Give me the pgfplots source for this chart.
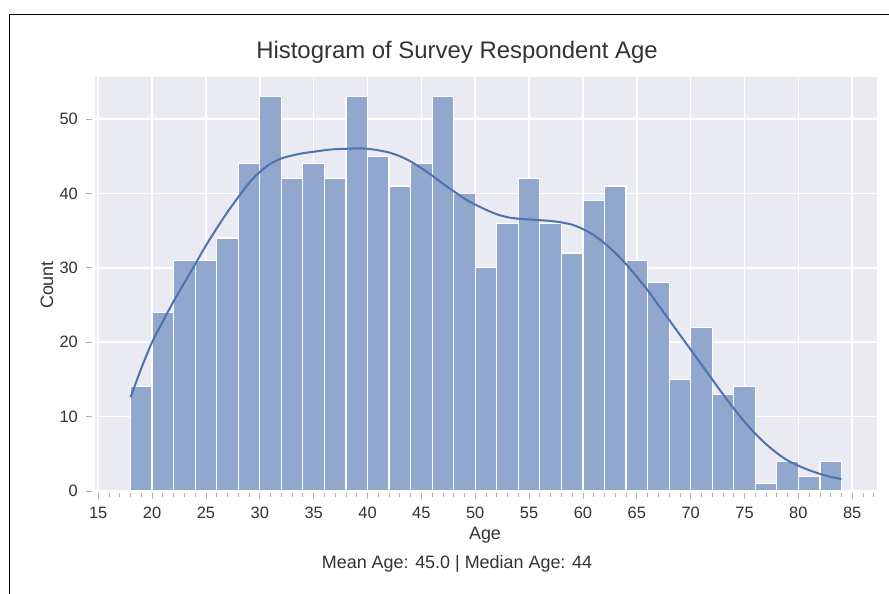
\documentclass[border=0pt]{standalone}
\usepackage{fontspec}
\setmainfont{Liberation Sans}
\usepackage{pgfplots}
\pgfplotsset{compat=1.18}

\definecolor{panel}{RGB}{234,234,242}
\definecolor{barfill}{RGB}{146,167,205}
\definecolor{kdeline}{RGB}{76,114,176}
\definecolor{txt}{RGB}{50,50,50}
\definecolor{tickc}{RGB}{175,175,175}

\begin{document}
\begin{tikzpicture}[x=1bp,y=1bp]
\useasboundingbox (0,0) rectangle (889,594);
% outer frame
\draw[line width=1.6bp] (9.5,0) -- (9.5,579.5) -- (889,579.5);

\begin{axis}[
  at={(95bp,103bp)}, anchor=south west,
  scale only axis, width=782bp, height=414bp,
  xmin=14.7, xmax=87.3, ymin=0, ymax=55.65,
  axis background/.style={fill=panel},
  axis line style={draw=none},
  xtick={15,20,...,85}, minor xtick={15,16,...,87},
  ytick={0,10,...,50},
  xmajorgrids, ymajorgrids,
  major grid style={white, line width=1.5bp},
  tick align=outside, tick pos=left,
  major tick length=6bp, minor tick length=4bp,
  xtick style={tickc, line width=0.8bp, yshift=-2bp},
  ytick style={tickc, line width=0.8bp, xshift=-3bp},
  tick label style={font=\fontsize{16.5}{18}\selectfont, text=txt, inner sep=0pt},
  /pgf/number format/assume math mode=true,
  xticklabel style={anchor=base, yshift=-22bp},
  yticklabel style={anchor=east, xshift=-11bp},
  clip=false,
]
% histogram counts, 2-year bins from 18 to 84
\addplot[ybar interval, fill=barfill, draw=white, line width=1.2bp] coordinates {
  (18,14) (20,24) (22,31) (24,31) (26,34) (28,44) (30,53) (32,42) (34,44)
  (36,42) (38,53) (40,45) (42,41) (44,44) (46,53) (48,40) (50,30) (52,36)
  (54,42) (56,36) (58,32) (60,39) (62,41) (64,31) (66,28) (68,15) (70,22)
  (72,13) (74,14) (76,1) (78,4) (80,2) (82,4) (84,4)
};
% kernel density estimate, scaled to counts
\addplot[kdeline, line width=2bp, smooth, no marks] coordinates {
  (18,12.6) (19,16.5) (20,20.0) (21,22.8) (22,25.5) (23,28.0) (24,30.5)
  (25,33.0) (26,35.3) (27,37.5) (28,39.5) (29,41.4) (30,42.9) (31,44.0)
  (32,44.7) (33,45.1) (34,45.4) (35,45.6) (36,45.8) (37,45.95) (38,46.0)
  (39,46.05) (40,46.0) (41,45.8) (42,45.5) (43,45.0) (44,44.3) (45,43.4)
  (46,42.4) (47,41.3) (48,40.3) (49,39.3) (50,38.5) (51,37.8) (52,37.2)
  (53,36.8) (54,36.6) (55,36.5) (56,36.4) (57,36.3) (58,36.1) (59,35.8)
  (60,35.2) (61,34.4) (62,33.3) (63,32.0) (64,30.5) (65,28.8) (66,27.0)
  (67,25.0) (68,23.0) (69,21.0) (70,19.0) (71,17.0) (72,15.0) (73,13.0)
  (74,11.1) (75,9.3) (76,7.7) (77,6.3) (78,5.1) (79,4.1) (80,3.4)
  (81,2.8) (82,2.3) (83,1.9) (84,1.6)
};
\end{axis}

\node[font=\fontsize{24}{28}\selectfont, text=txt, anchor=base] at (457,535) {Histogram of Survey Respondent Age};
\node[font=\fontsize{18}{21}\selectfont, text=txt, anchor=base] at (485,54) {Age};
\node[font=\fontsize{18}{21}\selectfont, text=txt, anchor=base, rotate=90] at (53,309) {Count};
\node[font=\fontsize{18}{21}\selectfont, text=txt, anchor=base] at (457,25) {Mean Age: 45.0 | Median Age: 44};
\end{tikzpicture}
\end{document}
